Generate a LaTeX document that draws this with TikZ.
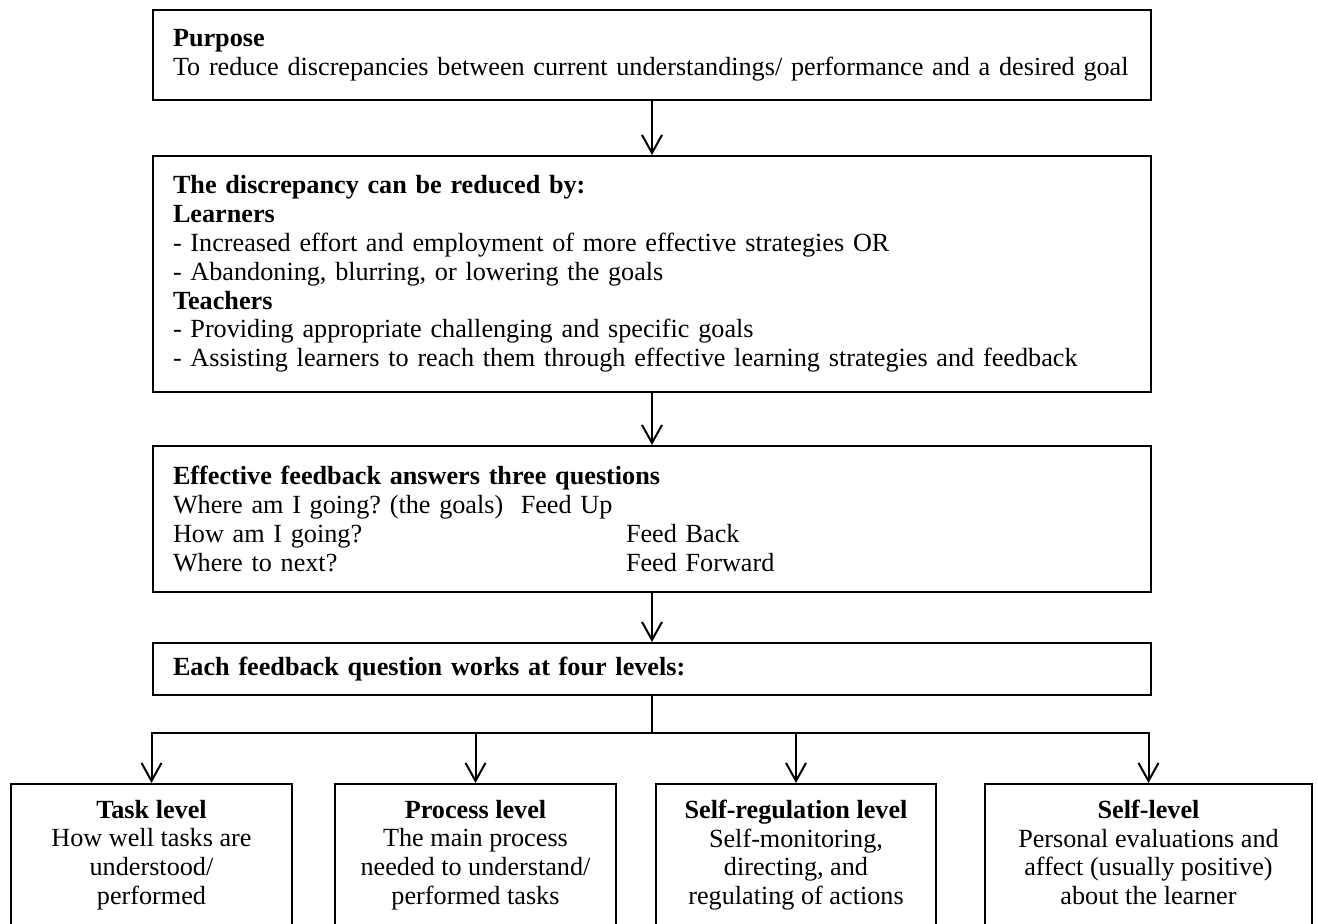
\documentclass[tikz,border=0pt]{standalone}
\usepackage{fontspec}
\setmainfont{Liberation Serif}
\usetikzlibrary{arrows.meta}
\begin{document}
\begin{tikzpicture}[x=0.5pt,y=-0.5pt,
    box/.style={draw,line width=1pt,inner xsep=10pt,inner ysep=0pt,align=left,
      anchor=north west,text width=479pt},
    lvl/.style={draw,line width=1pt,inner sep=0pt,align=center,anchor=north,minimum height=72.5pt,
      execute at begin node=\strut,execute at end node=\strut},
    arr/.style={line width=1pt,-{Straight Barb[length=9pt,width=10pt,line width=1pt]}},
    every node/.style={font=\fontsize{13.1}{14.4}\selectfont\frenchspacing}]
  \useasboundingbox (0,0) rectangle (1318,924);
  \clip (0,0) rectangle (1318,924);
  % the four wide boxes
  \node[box,minimum height=45pt] (pur) at (152,9)
    {\textbf{Purpose}\\To reduce discrepancies between current understandings/ performance and a desired goal};
  \node[box,minimum height=118pt] (red) at (152,155)
    {\textbf{The discrepancy can be reduced by:}\\
     \textbf{Learners}\\
     - Increased effort and employment of more effective strategies OR\\
     - Abandoning, blurring, or lowering the goals\\
     \textbf{Teachers}\\
     - Providing appropriate challenging and specific goals\\
     - Assisting learners to reach them through effective learning strategies and feedback};
  \node[box,minimum height=73pt] (que) at (152,445)
    {\textbf{Effective feedback answers three questions}\\
     Where am I going? (the goals)\ \ Feed Up\\
     \makebox[226.5pt][l]{How am I going?}Feed Back\\
     \makebox[226.5pt][l]{Where to next?}Feed Forward};
  \node[box,minimum height=26pt] (lev) at (152,642)
    {\textbf{Each feedback question works at four levels:}};
  % the four levels
  \node[lvl,minimum width=140.5pt] (task) at (151.5,783)
    {\textbf{Task level}\\How well tasks are\\understood/\\performed};
  \node[lvl,minimum width=140.5pt] (proc) at (475.5,783)
    {\textbf{Process level}\\The main process\\needed to understand/\\performed tasks};
  \node[lvl,minimum width=140pt] (sreg) at (796,783)
    {\textbf{Self-regulation level}\\Self-monitoring,\\directing, and\\regulating of actions};
  \node[lvl,minimum width=163.5pt] (self) at (1148.5,783)
    {\textbf{Self-level}\\Personal evaluations and\\affect (usually positive)\\about the learner};
  % connectors
  \draw[arr] (pur) -- (red);
  \draw[arr] (red) -- (que);
  \draw[arr] (que) -- (lev);
  \path (lev.south) ++(0,37) coordinate (hub);
  \draw[line width=1pt] (lev.south) -- (hub);
  \foreach \n in {task,proc,sreg,self}{
    \draw[arr] (hub) -| (\n.north);
  }
\end{tikzpicture}
\end{document}
